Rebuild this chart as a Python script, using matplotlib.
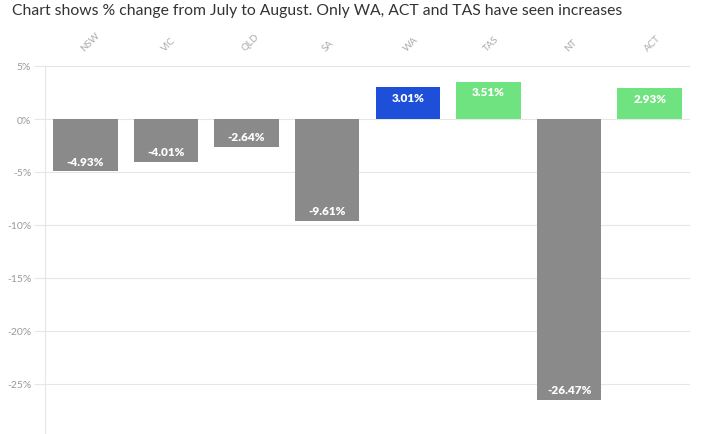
import numpy as np
import matplotlib.pyplot as plt

states = ["NSW", "VIC", "QLD", "SA", "WA", "TAS", "NT", "ACT"]
change = [-4.93, -4.01, -2.64, -9.61, 3.01, 3.51, -26.47, 2.93]
colors = ["#8a8a8a", "#8a8a8a", "#8a8a8a", "#8a8a8a", "#1d4fd8", "#6ee37f", "#8a8a8a", "#6ee37f"]
yticks = [5, 0, -5, -10, -15, -20, -25, -30]

plt.rcParams['font.family'] = ['Lato', 'DejaVu Sans']

fig = plt.figure(figsize=(7.02, 4.35), dpi=100)
ax = fig.add_axes([45/702, 1-438/435, 645/702, 371/435])

x = np.arange(len(states))
ax.bar(x, change, width=0.8, color=colors, zorder=2)

for xi, v in zip(x, change):
    off = -0.95 if v > 0 else 0.95
    ax.text(xi, v + off, f"{v:.2f}%", ha="center", va="center",
            color="white", fontsize=8.5, fontweight="heavy", zorder=3)

ax.set_xlim(-0.5, len(states) - 0.5)
ax.set_ylim(-30, 5)
ax.set_yticks(yticks)
ax.set_yticklabels([f"{t}%" for t in yticks], color="#999999", fontsize=7.5)
ax.tick_params(axis="y", length=8, color="#e6e6e6", pad=2)
ax.grid(axis="y", color="#e6e6e6", linewidth=0.8, zorder=0)

ax.xaxis.tick_top()
ax.set_xticks(x)
ax.set_xticklabels(states, rotation=45, color="#aaaaaa", fontsize=7, ha="left",
                   rotation_mode="anchor")
ax.tick_params(axis="x", length=0, pad=10)

for s in ["top", "right", "bottom"]:
    ax.spines[s].set_visible(False)
ax.spines["left"].set_color("#e6e6e6")

fig.text(12/702, 1-11/435, "Chart shows % change from July to August. Only WA, ACT and TAS have seen increases",
         fontsize=11.3, color="#333333", va="center", ha="left")

fig.savefig("out.png", dpi=100)
